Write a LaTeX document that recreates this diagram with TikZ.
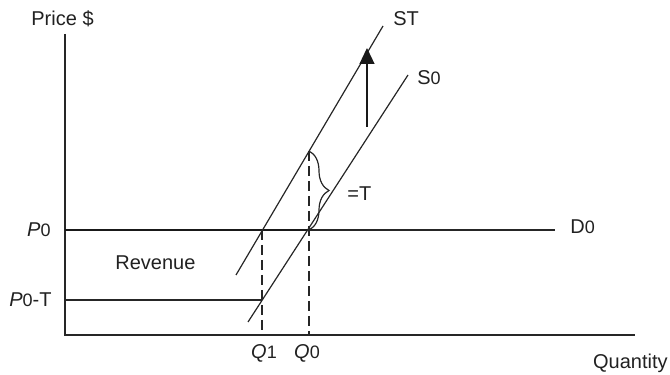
\documentclass[tikz,border=0pt]{standalone}
\usepackage{fontspec}
\setmainfont{Liberation Sans}
\usetikzlibrary{arrows.meta, positioning, decorations.pathreplacing}

\begin{document}
\begin{tikzpicture}[
  x=0.5pt, y=0.5pt,
  font=\normalsize,
  every node/.style={text=black!87},
  axis/.style={line width=0.65pt, black!85},
  curve/.style={line width=0.6pt, black!85},
  price/.style={line width=0.6pt, black!85},
  bold/.style={line width=1.05pt, black!90},
  guide/.style={line width=0.6pt, black!85, dash pattern=on 5pt off 2.5pt},
  lbl/.style={inner sep=0pt},
  uparr/.style={-{Triangle[length=8pt, width=7.5pt]}, line width=0.6pt, black!90},
  ]
  \useasboundingbox (0,0) rectangle (670,375);

  %% Points: axes, price levels, intersections
  \coordinate (o)    at (65, 40);
  \coordinate (ytop) at (65, 341);
  \coordinate (xend) at (635, 40);
  \coordinate (p0)   at (65, 145);
  \coordinate (pt)   at (65, 75);
  \coordinate (q1)   at (262, 40);
  \coordinate (q0)   at (309, 40);
  \coordinate (e1)   at (262, 145);  % ST meets D0
  \coordinate (e0)   at (309, 145);  % S0 meets D0
  \coordinate (f1)   at (262, 75);   % S0 at P0-T
  \coordinate (g0)   at (309, 224);  % ST above Q0
  \coordinate (dend) at (555, 145);
  \coordinate (st0)  at (236, 100);
  \coordinate (st1)  at (383, 349);
  \coordinate (s00)  at (248, 53);
  \coordinate (s01)  at (408, 300);
  \coordinate (ab)   at (367, 248);
  \coordinate (at)   at (367, 327);

  %% Labels
  \node[lbl, anchor=west] (ylab)  at (31, 356)  {Price \$};
  \node[lbl, anchor=east] (xlab)  at (668, 12)  {Quantity};
  \node[lbl, anchor=west] (stl)   at (393, 356) {ST};
  \node[lbl, anchor=west] (s0l)   at (417, 297) {S{\small 0}};
  \node[lbl, anchor=west] (d0l)   at (570, 148) {D{\small 0}};
  \node[lbl, anchor=west] (tl)    at (347, 181) {=T};
  \node[lbl, anchor=west] (rev)   at (115, 112) {Revenue};
  \node[lbl, anchor=east] (p0l)   at (51, 145)  {\textit{P}{\small 0}};
  \node[lbl, anchor=east] (ptl)   at (52, 75)   {\textit{P}{\small 0}-T};
  \node[lbl] (q1l) at (264, 22) {\textit{Q}{\small 1}};
  \node[lbl] (q0l) at (307, 22) {\textit{Q}{\small 0}};

  %% Axes
  \draw[axis] (ytop) -- (o) -- (xend);

  %% Price lines
  \draw[bold]  (p0) -- (e0);
  \draw[price] (e0) -- (dend);
  \draw[price] (pt) -- (f1);

  %% Supply curves
  \draw[curve] (st0) -- (st1);
  \draw[curve] (s00) -- (s01);

  %% Quantity guides
  \draw[guide] (e1) -- (q1);
  \draw[guide] (g0) -- (q0);

  % tax wedge and shift
  \draw[curve, decorate, decoration={brace, amplitude=10pt}] (g0) -- (e0);
  \draw[uparr] (ab) -- (at);
\end{tikzpicture}
\end{document}
